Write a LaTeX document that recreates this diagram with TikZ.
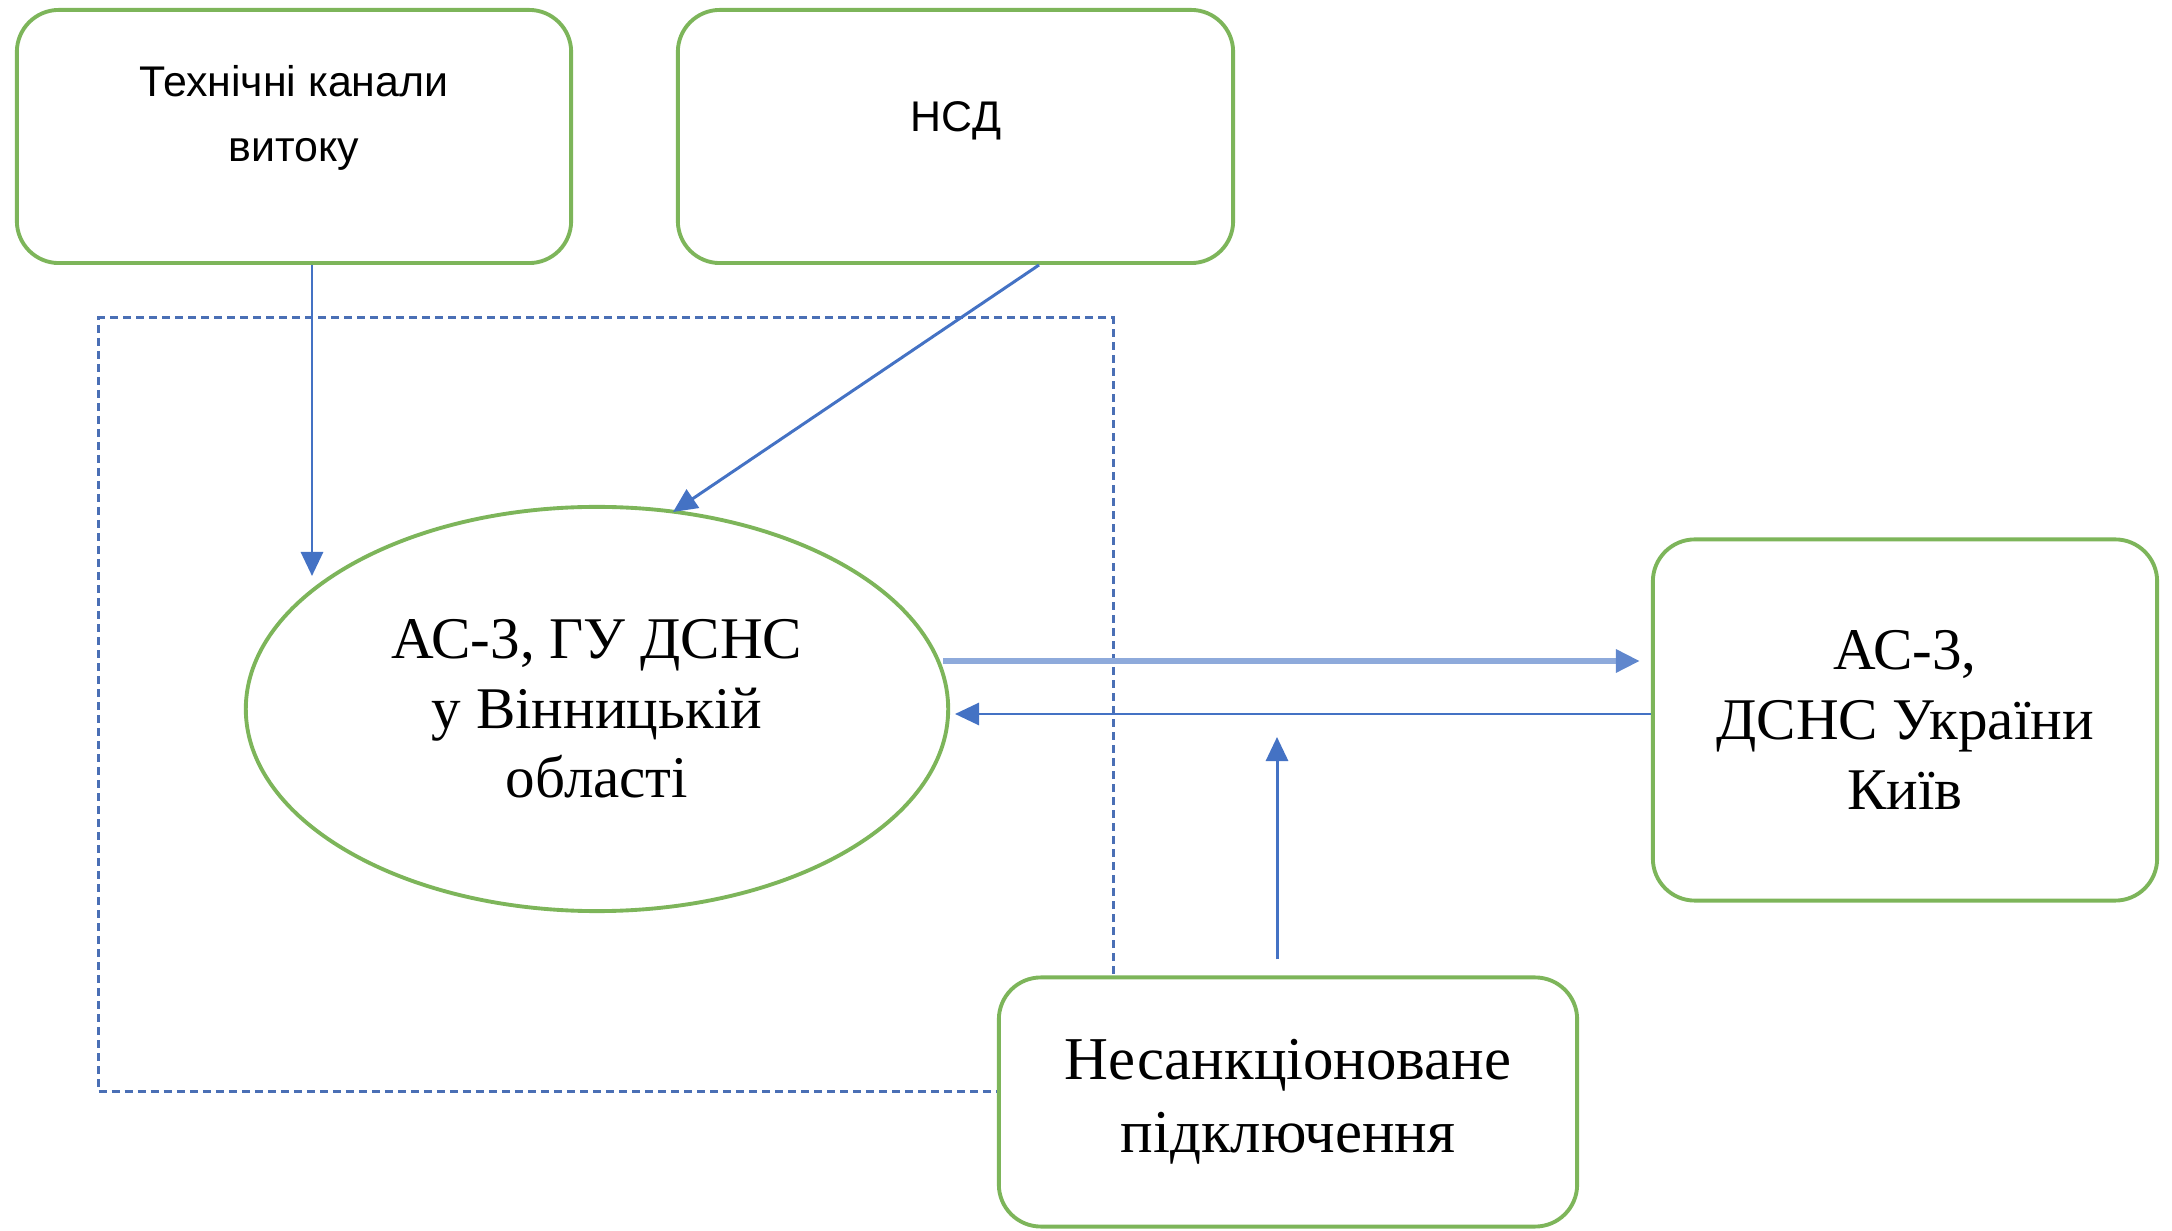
\documentclass[tikz,border=0pt]{standalone}
\usepackage{fontspec}
\setmainfont{Liberation Serif}
\newfontfamily\sansf{Liberation Sans}
\usetikzlibrary{arrows.meta,shapes.geometric}
\definecolor{gborder}{HTML}{7DB55A}
\definecolor{arrowblue}{HTML}{4472C4}
\definecolor{lightblue}{HTML}{8EAADB}
\definecolor{dashblue}{HTML}{4A6FB5}
\tikzset{
  gbox/.style={draw=gborder, line width=1.1pt, rounded corners=0.42cm, fill=white, inner sep=0pt, align=center},
  serift/.style={font=\fontsize{16.8}{19.8}\selectfont},
  sanst/.style={font=\sansf\fontsize{12.2}{18.5}\selectfont, align=center, inner sep=0pt},
  conn/.style={draw=arrowblue, line width=0.85pt, -{Triangle[length=0.24cm,width=0.22cm]}},
  thickconn/.style={draw=lightblue, line width=1.9pt, -{Triangle[length=0.24cm,width=0.22cm,color=arrowblue!85]}},
  zonebox/.style={draw=dashblue, line width=0.75pt, dash pattern=on 0.08cm off 0.05cm, inner sep=0pt}
}
\begin{document}
\begin{tikzpicture}[x=0.01cm,y=-0.01cm]
\useasboundingbox (0,0) rectangle (2172,1231);
% dashed zone
\node[zonebox, minimum width=10.14cm, minimum height=7.73cm] (zone) at (606,704.5) {};
% top boxes
\node[gbox, minimum width=5.54cm, minimum height=2.53cm] (tk) at (294,136.5) {};
\node[sanst] (tkt) at (294,118) {Технічні канали\\витоку};
\node[gbox, minimum width=5.55cm, minimum height=2.53cm] (nsd) at (955.5,136.5) {};
\node[sanst] (nsdt) at (956,121) {НСД};
% ellipse
\node[draw=gborder, line width=1.1pt, ellipse, fill=white, minimum width=7.02cm, minimum height=4.04cm, inner sep=0pt, align=center, serift] (ell) at (597,709) {АС-3, ГУ ДСНС\\у Вінницькій\\області};
% right box
\node[gbox, serift, minimum width=5.04cm, minimum height=3.61cm] (kyiv) at (1905,720) {АС-3,\\ДСНС України\\Київ};
% bottom box
\node[gbox, font=\fontsize{17.3}{20.7}\selectfont, minimum width=5.78cm, minimum height=2.49cm] (nsp) at (1288,1102) {Несанкціоноване\\підключення};
% connectors
\coordinate (a1) at (312,576);
\draw[conn] (tk.south -| a1) -- (a1);
\coordinate (a2s) at (1039,263);
\coordinate (a2) at (673,512);
\draw[conn] (nsd.south -| a2s) -- (a2);
\coordinate (h1) at (943,661);
\draw[thickconn, shorten >=0.11cm] (h1) -- (kyiv.west |- h1);
\coordinate (h2) at (955,714);
\draw[conn] (kyiv.west |- h2) -- (h2);
\coordinate (up) at (1277,737);
\draw[conn, shorten <=0.16cm] (nsp.north -| up) -- (up);
\end{tikzpicture}
\end{document}
